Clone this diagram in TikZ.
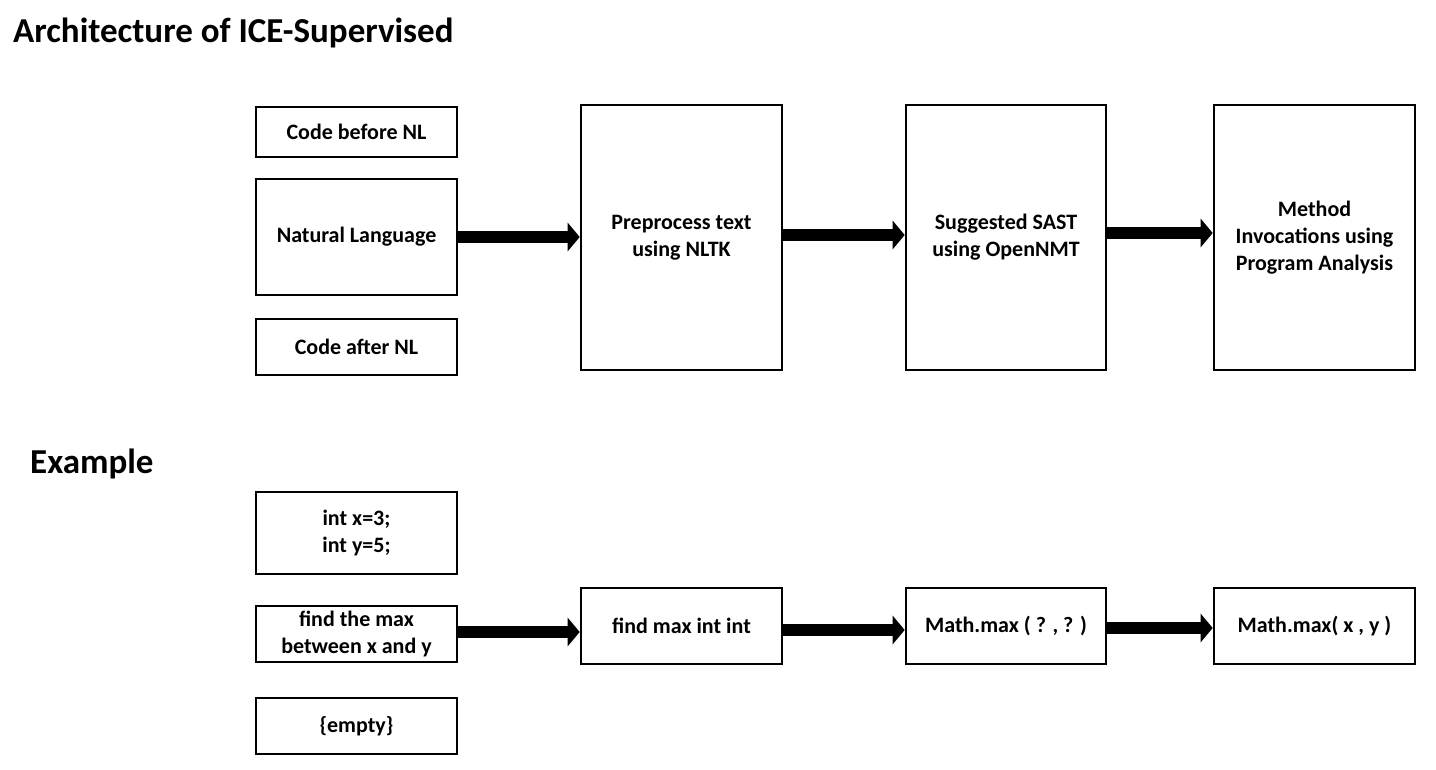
\documentclass[tikz,border=0pt]{standalone}
\usepackage{fontspec}
\setmainfont{Carlito}
\usetikzlibrary{arrows.meta}
\tikzset{
  box/.style={draw, line width=1.6pt, inner sep=0pt, align=center, font=\bfseries\fontsize{22}{27}\selectfont},
  flow/.style={line width=12pt, -{Triangle[length=12pt,width=28pt]}, shorten >=0.5pt},
  title/.style={anchor=west, inner sep=0pt, font=\bfseries\fontsize{35}{38}\selectfont}
}
\begin{document}
\begin{tikzpicture}[x=1pt,y=-1pt]
\useasboundingbox (0,0) rectangle (1436,770);
% titles
\node[title] (t1) at (13,33) {Architecture of ICE-Supervised};
\node[title] (t2) at (30,464) {Example};
% architecture row
\node[box, minimum width=201pt, minimum height=50pt] (cb) at (356.5,132) {Code before NL};
\node[box, minimum width=201pt, minimum height=116pt] (nl) at (356.5,237) {Natural Language};
\node[box, minimum width=201pt, minimum height=56pt] (ca) at (356.5,347) {Code after NL};
\node[box, minimum width=201pt, minimum height=265pt] (pp) at (681.5,237.5) {Preprocess text\\using NLTK};
\node[box, minimum width=200pt, minimum height=265pt] (ss) at (1006,237.5) {Suggested SAST\\using OpenNMT};
\node[box, minimum width=201pt, minimum height=265pt] (mi) at (1314.5,237.5) {Method\\Invocations using\\Program Analysis};
\draw[flow] (nl.east |- 0,237) -- (pp.west |- 0,237);
\draw[flow] (pp.east |- 0,235) -- (ss.west |- 0,235);
\draw[flow] (ss.east |- 0,233) -- (mi.west |- 0,233);
% example row
\node[box, minimum width=201pt, minimum height=82pt] (ex1) at (356.5,533) {int x=3;\\int y=5;};
\node[box, minimum width=201pt, minimum height=56pt] (ex2) at (356.5,634) {find the max\\between x and y};
\node[box, minimum width=201pt, minimum height=56pt] (ex3) at (356.5,726) {\{empty\}};
\node[box, minimum width=201pt, minimum height=76pt] (ep) at (681.5,626) {find max int int};
\node[box, minimum width=200pt, minimum height=76pt] (es) at (1006,626) {Math.max ( ? , ? )};
\node[box, minimum width=201pt, minimum height=76pt] (em) at (1314.5,626) {Math.max( x , y )};
\draw[flow] (ex2.east |- 0,632) -- (ep.west |- 0,632);
\draw[flow] (ep.east |- 0,630) -- (es.west |- 0,630);
\draw[flow] (es.east |- 0,628) -- (em.west |- 0,628);
\end{tikzpicture}
\end{document}
